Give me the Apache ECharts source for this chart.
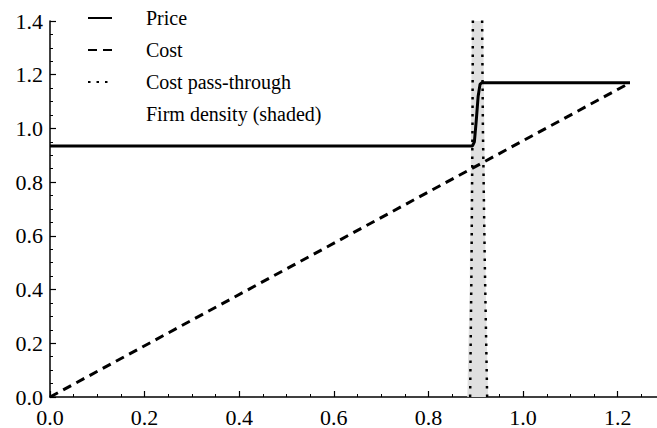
<!DOCTYPE html>
<html>
<head>
<meta charset="utf-8">
<script src="https://cdn.jsdelivr.net/npm/echarts@6/dist/echarts.min.js"></script>
<style>
html,body{margin:0;padding:0;background:#fff;overflow:hidden;}
#chart{width:657px;height:428px;}
</style>
</head>
<body>
<div id="chart"></div>
<script>
// ---- data ----
const seriesNames = ['Price', 'Cost', 'Cost pass-through', 'Firm density (shaded)'];
const priceData = [[0, 0.935], [0.893, 0.935], [0.897, 0.95], [0.901, 1.03], [0.905, 1.12], [0.909, 1.165], [0.913, 1.17], [1.226, 1.17]];
const costData = [[0, 0], [1.226, 1.17]];
const passThroughLeft = [[0.888, 0], [0.891, 0.5], [0.893, 1.0], [0.894, 1.5]];
const passThroughRight = [[0.924, 0], [0.919, 0.5], [0.915, 1.0], [0.913, 1.5]];
const densityData = [[0.882, 0], [0.887, 0.4], [0.890, 1.0], [0.892, 1.5], [0.915, 1.5], [0.918, 1.0], [0.921, 0.4], [0.926, 0]];
const xTicks = [0, 0.2, 0.4, 0.6, 0.8, 1.0, 1.2];
const yTicks = [0, 0.2, 0.4, 0.6, 0.8, 1.0, 1.2, 1.4];
const xMax = 1.283;
const yMax = 1.4;

const FONT = 'Liberation Serif';
const chart = echarts.init(document.getElementById('chart'), null, {renderer: 'svg'});

const majorAxisCommon = {
  axisLine: {show: true, lineStyle: {color: '#000', width: 1.5}},
  axisTick: {show: true, inside: true, length: 6, lineStyle: {color: '#000', width: 1.2}},
  splitLine: {show: false},
  axisLabel: {color: '#000', fontFamily: FONT, fontSize: 22, showMaxLabel: true}
};
const minorAxisCommon = {
  axisLine: {show: false},
  axisTick: {show: true, inside: true, length: 3, lineStyle: {color: '#000', width: 1}},
  splitLine: {show: false},
  axisLabel: {show: false}
};

chart.setOption({
  animation: false,
  backgroundColor: '#fff',
  grid: {left: 50, right: 0, top: 21, bottom: 31, containLabel: false},
  legend: {
    orient: 'vertical',
    left: 82,
    top: 2,
    itemWidth: 24,
    itemHeight: 2,
    itemGap: 10,
    itemStyle: {opacity: 0},
    textStyle: {fontFamily: FONT, fontSize: 20, color: '#000', padding: [0, 0, 0, 29], lineHeight: 22},
    data: [
      {name: seriesNames[0]},
      {name: seriesNames[1]},
      {name: seriesNames[2]},
      {name: seriesNames[3], icon: 'none'}
    ]
  },
  xAxis: [
    Object.assign({type: 'value', min: 0, max: xMax, interval: 0.2}, majorAxisCommon, {
      axisLabel: Object.assign({}, majorAxisCommon.axisLabel, {showMaxLabel: false, margin: 9,
        formatter: v => xTicks.some(t => Math.abs(t - v) < 1e-9) ? v.toFixed(1) : ''})
    }),
    Object.assign({type: 'value', min: 0, max: xMax, interval: 0.05, position: 'bottom'}, minorAxisCommon)
  ],
  yAxis: [
    Object.assign({type: 'value', min: 0, max: yMax, interval: 0.2}, majorAxisCommon, {
      axisLabel: Object.assign({}, majorAxisCommon.axisLabel, {margin: 7,
        formatter: v => yTicks.some(t => Math.abs(t - v) < 1e-9) ? v.toFixed(1) : ''})
    }),
    Object.assign({type: 'value', min: 0, max: yMax, interval: 0.05, position: 'left'}, minorAxisCommon)
  ],
  series: [
    {
      name: seriesNames[3], type: 'line', data: densityData, symbol: 'none', z: 1,
      lineStyle: {width: 0, color: '#e0e0e0'}, itemStyle: {color: '#e0e0e0'},
      areaStyle: {color: '#e0e0e0', opacity: 1}, clip: true
    },
    {
      name: seriesNames[0], type: 'line', data: priceData, symbol: 'none', z: 5,
      lineStyle: {width: 3, color: '#000', type: 'solid'}, itemStyle: {color: '#000'}
    },
    {
      name: seriesNames[1], type: 'line', data: costData, symbol: 'none', z: 4,
      lineStyle: {width: 3, color: '#000', type: [9, 6]}, itemStyle: {color: '#000'}
    },
    {
      name: seriesNames[2], type: 'line', data: passThroughLeft, symbol: 'none', z: 3, clip: true,
      lineStyle: {width: 2.5, color: '#000', type: [2.5, 6]}, itemStyle: {color: '#000'}
    },
    {
      name: seriesNames[2], type: 'line', data: passThroughRight, symbol: 'none', z: 3, clip: true,
      lineStyle: {width: 2.5, color: '#000', type: [2.5, 6]}, itemStyle: {color: '#000'}
    }
  ]
});
</script>
</body>
</html>
